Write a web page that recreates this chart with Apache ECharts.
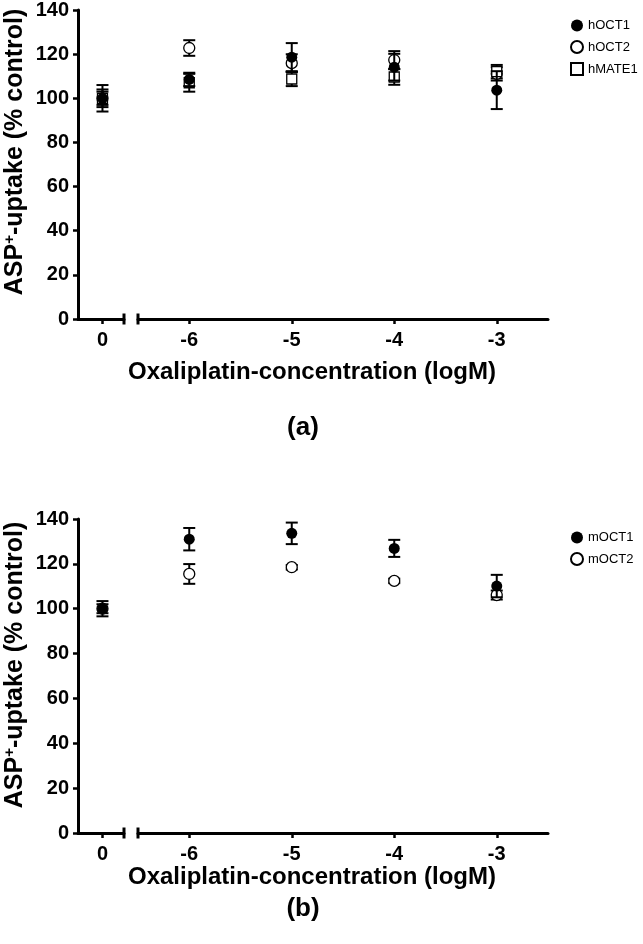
<!DOCTYPE html>
<html><head><meta charset="utf-8">
<script src="https://cdn.jsdelivr.net/npm/echarts@6/dist/echarts.min.js"></script>
<style>html,body{margin:0;padding:0;background:#fff}#c{width:643px;height:944px}</style>
</head><body><div id="c"></div><script>
// ---- data ----
const doseLabels = ['0', '-6', '-5', '-4', '-3'];
const doseX = [0, -6, -5, -4, -3];
const yTickValues = [0, 20, 40, 60, 80, 100, 120, 140];

const hOCT1 = [100, 107.5, 117.5, 113, 102.7];
const hOCT1Err = [6, 3, 6.3, 6, 8.5];
const hOCT2 = [100, 121.6, 114.8, 116.2, 110];
const hOCT2Err = [4, 3.5, 4, 4, 3];
const hMATE1 = [100, 106, 107.7, 108.6, 111];
const hMATE1Err = [3, 4, 3.2, 3.5, 3];

const mOCT1 = [100, 131, 133.6, 126.9, 110.1];
const mOCT1Err = [3.4, 5, 4.8, 3.8, 5];
const mOCT2 = [100, 115.5, 118.5, 112.4, 106.1];
const mOCT2Err = [2, 4.4, 1, 1, 2];

const panelA = [
  { name: 'hOCT1', values: hOCT1, errs: hOCT1Err, symbol: 'circle', filled: true },
  { name: 'hOCT2', values: hOCT2, errs: hOCT2Err, symbol: 'circle', filled: false },
  { name: 'hMATE1', values: hMATE1, errs: hMATE1Err, symbol: 'rect', filled: false }
];
const panelB = [
  { name: 'mOCT1', values: mOCT1, errs: mOCT1Err, symbol: 'circle', filled: true },
  { name: 'mOCT2', values: mOCT2, errs: mOCT2Err, symbol: 'circle', filled: false }
];

// ---- styling / layout ----
const FONT = '"Liberation Sans", Arial, Helvetica, sans-serif';
const grids = [
  { left: 78, width: 46, top: 7, height: 312 },
  { left: 138, width: 410, top: 7, height: 312 },
  { left: 78, width: 46, top: 519, height: 314 },
  { left: 138, width: 410, top: 519, height: 314 }
];

function xAxisDef(gridIndex, isLeft) {
  return {
    type: 'value', gridIndex,
    min: isLeft ? -0.5 : -6.5, max: isLeft ? 0.44 : -2.5,
    axisLine: { show: true, onZero: false, lineStyle: { color: '#000', width: 3 },
      symbol: isLeft ? ['none', 'rect'] : ['rect', 'none'], symbolSize: [11, 3] },
    axisTick: { show: true, length: 5, lineStyle: { color: '#000', width: 2.5 },
      customValues: isLeft ? [0] : [-6, -5, -4, -3] },
    axisLabel: { show: true, customValues: isLeft ? [0] : [-6, -5, -4, -3],
      formatter: v => doseLabels[doseX.indexOf(v)], color: '#000', fontSize: 20, fontWeight: 'bold',
      fontFamily: FONT, margin: 11 },
    splitLine: { show: false }
  };
}
function yAxisDef(gridIndex, show) {
  return {
    type: 'value', gridIndex, min: 0, max: 140, interval: 20, show,
    axisLine: { show: true, onZero: false, lineStyle: { color: '#000', width: 3 } },
    axisTick: { show: true, length: 5, lineStyle: { color: '#000', width: 2.5 } },
    axisLabel: { color: '#000', fontSize: 20, fontWeight: 'bold', fontFamily: FONT, margin: 9,
      formatter: v => yTickValues.includes(v) ? String(v) : '' },
    splitLine: { show: false }
  };
}

function renderErr(params, api) {
  const x = api.value(0), y = api.value(1), e = api.value(2);
  const top = api.coord([x, y + e]), bot = api.coord([x, y - e]);
  const w = 6;
  const st = { stroke: '#000', lineWidth: 2 };
  return { type: 'group', children: [
    { type: 'line', shape: { x1: top[0], y1: top[1], x2: bot[0], y2: bot[1] }, style: st },
    { type: 'line', shape: { x1: top[0] - w, y1: top[1], x2: top[0] + w, y2: top[1] }, style: st },
    { type: 'line', shape: { x1: bot[0] - w, y1: bot[1], x2: bot[0] + w, y2: bot[1] }, style: st }
  ]};
}

const scatterSeries = [], errSeries = [];
function addPanel(panel, leftGrid, rightGrid) {
  panel.forEach(s => {
    [[leftGrid, [0]], [rightGrid, [1, 2, 3, 4]]].forEach(([g, idxs]) => {
      const pts = idxs.map(i => [doseX[i], s.values[i], s.errs[i]]);
      errSeries.push({ type: 'custom', name: s.name, xAxisIndex: g, yAxisIndex: g,
        renderItem: renderErr, data: pts, encode: { x: 0, y: 1 }, z: s.filled ? 4 : 2, silent: true });
      scatterSeries.push({ type: 'scatter', name: s.name, xAxisIndex: g, yAxisIndex: g,
        symbol: s.symbol, symbolSize: s.filled ? 11 : (s.symbol === 'rect' ? 10 : 11),
        itemStyle: s.filled ? { color: '#000', opacity: 1 } :
          { color: '#fff', borderColor: '#000', borderWidth: 1.3, opacity: 1 },
        data: pts.map(p => [p[0], p[1]]), z: s.filled ? 5 : 3, silent: true });
    });
  });
}
addPanel(panelA, 0, 1);
addPanel(panelB, 2, 3);

const titleStyle = { fill: '#000', font: 'bold 24px ' + FONT };
const yTitle = (y) => ({ type: 'text', x: 15, y, rotation: Math.PI / 2, style: {
  text: '{b|ASP}{s|+}{b|-uptake (% control)}', align: 'center', verticalAlign: 'middle',
  rich: { b: { fontSize: 25, fontWeight: 'bold', fontFamily: FONT, fill: '#000' },
          s: { fontSize: 15, fontWeight: 'bold', fontFamily: FONT, fill: '#000', verticalAlign: 'top', padding: [0, 0, 10, 0] } } } });
const option = {
  animation: false,
  backgroundColor: '#fff',
  grid: grids,
  xAxis: [xAxisDef(0, true), xAxisDef(1, false), xAxisDef(2, true), xAxisDef(3, false)],
  yAxis: [yAxisDef(0, true), yAxisDef(1, false), yAxisDef(2, true), yAxisDef(3, false)],
  legend: [
    { data: panelA.map(s => s.name), orient: 'vertical', left: 565, top: 14, itemWidth: 12, itemHeight: 12,
      itemGap: 8, textStyle: { fontSize: 13, color: '#000', fontFamily: FONT }, selectedMode: false },
    { data: panelB.map(s => s.name), orient: 'vertical', left: 565, top: 526, itemWidth: 12, itemHeight: 12,
      itemGap: 8, textStyle: { fontSize: 13, color: '#000', fontFamily: FONT }, selectedMode: false }
  ],
  series: scatterSeries.concat(errSeries),
  graphic: [
    { type: 'text', x: 312, y: 372, style: Object.assign({ text: 'Oxaliplatin-concentration (logM)', align: 'center', verticalAlign: 'middle' }, titleStyle) },
    { type: 'text', x: 312, y: 877, style: Object.assign({ text: 'Oxaliplatin-concentration (logM)', align: 'center', verticalAlign: 'middle' }, titleStyle) },
    { type: 'text', x: 303, y: 428, style: { text: '(a)', align: 'center', verticalAlign: 'middle', fill: '#000', font: 'bold 26px ' + FONT } },
    { type: 'text', x: 303, y: 909, style: { text: '(b)', align: 'center', verticalAlign: 'middle', fill: '#000', font: 'bold 26px ' + FONT } },
    yTitle(152),
    yTitle(665)
  ]
};
const chart = echarts.init(document.getElementById('c'), null, { renderer: 'canvas' });
chart.setOption(option);
</script></body></html>
